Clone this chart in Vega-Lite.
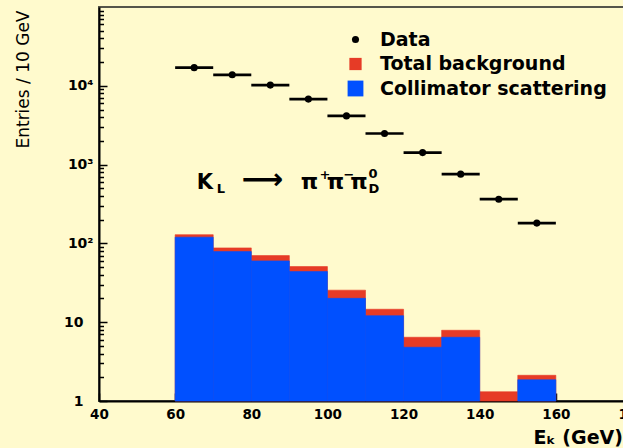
{
  "$schema": "https://vega.github.io/schema/vega-lite/v6.json",
  "width": 533,
  "height": 394,
  "autosize": {"type": "none"},
  "padding": {"left": 99, "top": 7, "right": -9, "bottom": 47},
  "background": "#fffacd",
  "config": {
    "view": {"stroke": "#55554a", "strokeWidth": 2, "fill": "#fffacd"},
    "font": "DejaVu Sans",
    "axis": {"grid": false, "domainColor": "#000000", "domainWidth": 2, "tickColor": "#000000", "tickWidth": 1.5, "labelFont": "DejaVu Sans", "labelFontWeight": "bold", "labelFontSize": 13, "labelColor": "#000000", "titleColor": "#000000", "labelOverlap": false, "labelFlush": false},
    "legend": {"orient": "none", "legendX": 247, "legendY": 23, "labelFont": "DejaVu Sans", "labelFontWeight": "bold", "labelFontSize": 19, "labelColor": "#000000", "labelLimit": 0, "rowPadding": 4.5, "labelOffset": 15, "symbolStrokeWidth": 0, "padding": 0}
  },
  "datasets": {
    "hist": [
      {"lo": 60, "hi": 70, "total": 129, "collim": 120},
      {"lo": 70, "hi": 80, "total": 87.7, "collim": 78.7},
      {"lo": 80, "hi": 90, "total": 70, "collim": 60},
      {"lo": 90, "hi": 100, "total": 50.8, "collim": 43.9},
      {"lo": 100, "hi": 110, "total": 25.5, "collim": 20.1},
      {"lo": 110, "hi": 120, "total": 14.6, "collim": 12.1},
      {"lo": 120, "hi": 130, "total": 6.44, "collim": 4.81},
      {"lo": 130, "hi": 140, "total": 7.9, "collim": 6.44},
      {"lo": 140, "hi": 150, "total": 1.31, "collim": null},
      {"lo": 150, "hi": 160, "total": 2.12, "collim": 1.86}
    ],
    "pts": [
      {"lo": 60, "hi": 70, "e": 65, "n": 17000},
      {"lo": 70, "hi": 80, "e": 75, "n": 13800},
      {"lo": 80, "hi": 90, "e": 85, "n": 10200},
      {"lo": 90, "hi": 100, "e": 95, "n": 6780},
      {"lo": 100, "hi": 110, "e": 105, "n": 4150},
      {"lo": 110, "hi": 120, "e": 115, "n": 2480},
      {"lo": 120, "hi": 130, "e": 125, "n": 1420},
      {"lo": 130, "hi": 140, "e": 135, "n": 757},
      {"lo": 140, "hi": 150, "e": 145, "n": 364},
      {"lo": 150, "hi": 160, "e": 155, "n": 181}
    ],
    "annot": [
      {"t": "K", "x": 65.67, "y": 496, "kind": "main"},
      {"t": "L", "x": 70.93, "y": 431, "kind": "small"},
      {"t": "⟶", "x": 77.49, "y": 496, "kind": "arrow"},
      {"t": "π", "x": 93.0, "y": 496, "kind": "pi"},
      {"t": "+", "x": 97.9, "y": 655, "kind": "small"},
      {"t": "π", "x": 99.8, "y": 496, "kind": "pi"},
      {"t": "−", "x": 104.2, "y": 655, "kind": "small"},
      {"t": "π", "x": 106.0, "y": 496, "kind": "pi"},
      {"t": "0", "x": 110.8, "y": 675, "kind": "small"},
      {"t": "D", "x": 110.8, "y": 435, "kind": "small"}
    ]
  },
  "layer": [
    {
      "data": {"name": "hist"},
      "mark": {"type": "bar", "stroke": "#e63b26", "strokeWidth": 0.6},
      "encoding": {
        "x": {"field": "lo", "type": "quantitative", "scale": {"domain": [40, 180], "nice": false, "zero": false},
          "axis": {"values": [40, 50, 60, 70, 80, 90, 100, 110, 120, 130, 140, 150, 160, 170, 180], "labelExpr": "datum.value % 20 == 0 ? datum.label : ''", "tickSize": {"condition": {"test": "datum.value % 20 == 0", "value": -8}, "value": -4.5}, "labelPadding": 14, "labelFontSize": 13.5, "title": "Eₖ  (GeV)", "titleFont": "DejaVu Sans", "titleFontWeight": "bold", "titleFontSize": 19, "titleAnchor": "start", "titleAlign": "left", "titleX": 434, "titleBaseline": "alphabetic", "titleY": 42}},
        "x2": {"field": "hi"},
        "y": {"field": "total", "type": "quantitative", "scale": {"type": "log", "domain": [1, 100000], "nice": false},
          "axis": {"values": [1, 2, 3, 4, 5, 6, 7, 8, 9, 10, 20, 30, 40, 50, 60, 70, 80, 90, 100, 200, 300, 400, 500, 600, 700, 800, 900, 1000, 2000, 3000, 4000, 5000, 6000, 7000, 8000, 9000, 10000, 20000, 30000, 40000, 50000, 60000, 70000, 80000, 90000],
            "labelExpr": "datum.value == 1 ? '1' : datum.value == 10 ? '10' : datum.value == 100 ? '10²' : datum.value == 1000 ? '10³' : datum.value == 10000 ? '10⁴' : ''",
            "tickSize": {"condition": {"test": "indexof([1, 10, 100, 1000, 10000], datum.value) >= 0", "value": -8}, "value": -4.5},
            "labelPadding": {"condition": {"test": "datum.value <= 10", "value": 24}, "value": 14}, "labelFontSize": 14,
            "title": "Entries / 10 GeV", "titleFont": "DejaVu Sans", "titleFontWeight": "normal", "titleFontSize": 17, "titleAngle": 270, "titleAlign": "right", "titleBaseline": "middle", "titleX": -76, "titleY": 3}},
        "y2": {"datum": 1},
        "color": {"datum": "Total background", "scale": {"domain": ["Data", "Total background", "Collimator scattering"], "range": ["#000000", "#e63b26", "#0050ff"]}, "legend": {"title": null}}
      }
    },
    {
      "data": {"name": "hist"},
      "transform": [{"filter": "datum.collim != null"}],
      "mark": {"type": "bar", "stroke": "#0050ff", "strokeWidth": 0.6},
      "encoding": {
        "x": {"field": "lo", "type": "quantitative"},
        "x2": {"field": "hi"},
        "y": {"field": "collim", "type": "quantitative"},
        "y2": {"datum": 1},
        "color": {"datum": "Collimator scattering"}
      }
    },
    {
      "data": {"name": "pts"},
      "mark": {"type": "rule", "color": "#000000", "strokeWidth": 2.7},
      "encoding": {
        "x": {"field": "lo", "type": "quantitative"},
        "x2": {"field": "hi"},
        "y": {"field": "n", "type": "quantitative"}
      }
    },
    {
      "data": {"name": "pts"},
      "mark": {"type": "point", "filled": true, "opacity": 1},
      "encoding": {
        "x": {"field": "e", "type": "quantitative"},
        "y": {"field": "n", "type": "quantitative"},
        "color": {"datum": "Data"},
        "shape": {"datum": "Data", "scale": {"domain": ["Data", "Total background", "Collimator scattering"], "range": ["circle", "square", "square"]}, "legend": {"title": null}},
        "size": {"datum": "Data", "scale": {"domain": ["Data", "Total background", "Collimator scattering"], "range": [50, 250, 250]}, "legend": {"title": null}}
      }
    },
    {
      "data": {"name": "annot"},
      "transform": [{"filter": "datum.kind == 'main'"}],
      "mark": {"type": "text", "align": "left", "baseline": "alphabetic", "fontSize": 21, "fontWeight": "bold", "font": "DejaVu Sans", "color": "#000000"},
      "encoding": {
        "x": {"field": "x", "type": "quantitative"},
        "y": {"field": "y", "type": "quantitative"},
        "text": {"field": "t"}
      }
    },
    {
      "data": {"name": "annot"},
      "transform": [{"filter": "datum.kind == 'pi'"}],
      "mark": {"type": "text", "align": "left", "baseline": "alphabetic", "fontSize": 22, "fontWeight": "bold", "font": "DejaVu Sans", "color": "#000000"},
      "encoding": {
        "x": {"field": "x", "type": "quantitative"},
        "y": {"field": "y", "type": "quantitative"},
        "text": {"field": "t"}
      }
    },
    {
      "data": {"name": "annot"},
      "transform": [{"filter": "datum.kind == 'small'"}],
      "mark": {"type": "text", "align": "left", "baseline": "alphabetic", "fontSize": 13, "fontWeight": "bold", "font": "DejaVu Sans", "color": "#000000"},
      "encoding": {
        "x": {"field": "x", "type": "quantitative"},
        "y": {"field": "y", "type": "quantitative"},
        "text": {"field": "t"}
      }
    },
    {
      "data": {"name": "annot"},
      "transform": [{"filter": "datum.kind == 'arrow'"}],
      "mark": {"type": "text", "align": "left", "baseline": "alphabetic", "fontSize": 29, "fontWeight": "bold", "font": "DejaVu Sans", "color": "#000000"},
      "encoding": {
        "x": {"field": "x", "type": "quantitative"},
        "y": {"field": "y", "type": "quantitative"},
        "text": {"field": "t"}
      }
    }
  ]
}
